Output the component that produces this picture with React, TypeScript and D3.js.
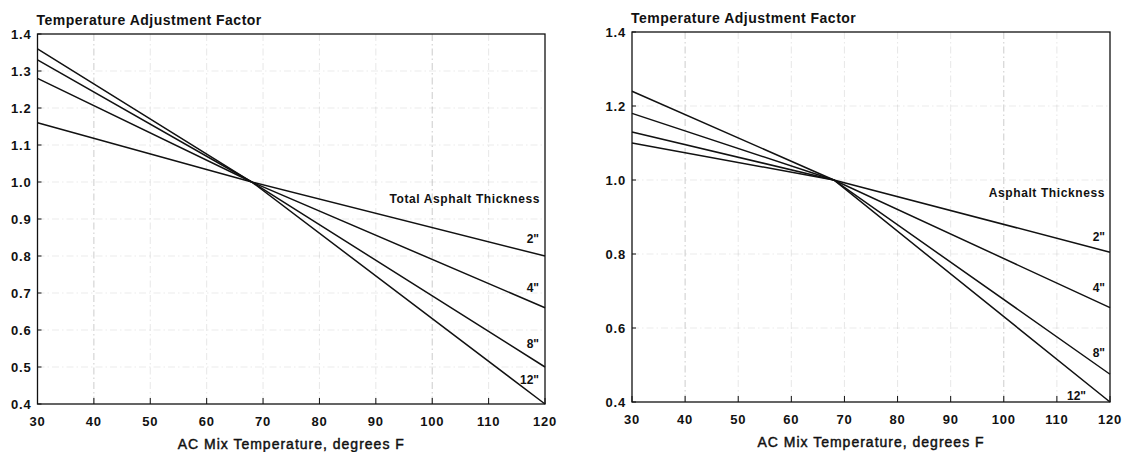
import React from "react";
import * as d3 from "d3";

// ---------- data ----------
const xTicks = [30, 40, 50, 60, 70, 80, 90, 100, 110, 120];
const leftYTicks = [0.4, 0.5, 0.6, 0.7, 0.8, 0.9, 1.0, 1.1, 1.2, 1.3, 1.4];
const rightYTicks = [0.4, 0.6, 0.8, 1.0, 1.2, 1.4];

const temps = [30, 68, 120];
const thicknessLabels = ['2"', '4"', '8"', '12"'];

const left2 = [1.16, 1.0, 0.8];
const left4 = [1.28, 1.0, 0.66];
const left8 = [1.33, 1.0, 0.5];
const left12 = [1.36, 1.0, 0.4];

const right2 = [1.1, 1.0, 0.805];
const right4 = [1.13, 1.0, 0.655];
const right8 = [1.18, 1.0, 0.475];
const right12 = [1.24, 1.0, 0.4];

const yTitle = "Temperature Adjustment Factor";
const xTitle = "AC Mix Temperature, degrees F";
const leftLegendTitle = "Total Asphalt Thickness";
const rightLegendTitle = "Asphalt Thickness";

const FONT = "'Liberation Sans', Arial, Helvetica, sans-serif";

type PanelProps = {
  x0: number;
  x1: number;
  y0: number;
  y1: number;
  yTicks: number[];
  series: number[][];
  legendTitle: string;
  legendDy: number;
  labelDy: number[];
  labelDx: number[];
};

function Panel(p: PanelProps) {
  const x = d3.scaleLinear().domain([30, 120]).range([p.x0, p.x1]);
  const y = d3.scaleLinear().domain([0.4, 1.4]).range([p.y1, p.y0]);
  const line = d3
    .line<number>()
    .x((_, i) => x(temps[i]))
    .y((d) => y(d));
  const fmt = d3.format(".1f");
  return (
    <g>
      {/* faint dash-dot grid */}
      {xTicks.slice(1, -1).map((t) => (
        <line
          key={"gx" + t}
          x1={x(t)}
          x2={x(t)}
          y1={p.y0}
          y2={p.y1}
          stroke="#9a9a9a"
          strokeWidth={0.9}
          strokeDasharray="7,3,1.5,3"
          opacity={t === 40 || t === 100 ? 0.55 : 0.25}
        />
      ))}
      {p.yTicks.slice(1, -1).map((t) => (
        <line
          key={"gy" + t}
          x1={p.x0}
          x2={p.x1}
          y1={y(t)}
          y2={y(t)}
          stroke="#9a9a9a"
          strokeWidth={0.9}
          strokeDasharray="7,3,1.5,3"
          opacity={0.2}
        />
      ))}
      {/* frame */}
      <rect
        x={p.x0}
        y={p.y0}
        width={p.x1 - p.x0}
        height={p.y1 - p.y0}
        fill="none"
        stroke="#111"
        strokeWidth={1.3}
      />
      {/* x ticks */}
      {xTicks.map((t) => (
        <g key={"xt" + t}>
          <line x1={x(t)} x2={x(t)} y1={p.y1} y2={p.y1 - 6} stroke="#111" strokeWidth={1} />
          <text
            x={x(t)}
            y={p.y1 + 22}
            textAnchor="middle"
            fontFamily={FONT}
            fontWeight="bold"
            fontSize={13}
            letterSpacing={0.8}
            fill="#111"
          >
            {t}
          </text>
        </g>
      ))}
      {/* y ticks */}
      {p.yTicks.map((t) => (
        <g key={"yt" + t}>
          <line x1={p.x0} x2={p.x0 + 4} y1={y(t)} y2={y(t)} stroke="#111" strokeWidth={1} />
          <text
            x={p.x0 - 6}
            y={y(t)}
            dy="0.35em"
            textAnchor="end"
            fontFamily={FONT}
            fontWeight="bold"
            fontSize={13}
            letterSpacing={0.8}
            fill="#111"
          >
            {fmt(t)}
          </text>
        </g>
      ))}
      {/* titles */}
      <text
        x={p.x0 - 1}
        y={p.y0 - 9}
        fontFamily={FONT}
        fontWeight="bold"
        fontSize={14}
        letterSpacing={0.5}
        fill="#111"
      >
        {yTitle}
      </text>
      <text
        x={(p.x0 + p.x1) / 2}
        y={p.y1 + 45}
        textAnchor="middle"
        fontFamily={FONT}
        fontSize={14}
        letterSpacing={1}
        fill="#111"
        stroke="#111"
        strokeWidth={0.45}
      >
        {xTitle}
      </text>
      {/* series */}
      {p.series.map((s, i) => (
        <path key={"s" + i} d={line(s) || ""} fill="none" stroke="#111" strokeWidth={1.5} />
      ))}
      {/* labels */}
      <text
        x={p.x1 - 5}
        y={y(p.series[0][2]) - p.legendDy}
        dy="0.35em"
        textAnchor="end"
        fontFamily={FONT}
        fontWeight="bold"
        fontSize={12}
        letterSpacing={0.6}
        fill="#111"
      >
        {p.legendTitle}
      </text>
      {p.series.map((s, i) => (
        <text
          key={"l" + i}
          x={p.x1 - p.labelDx[i]}
          y={y(s[2]) - p.labelDy[i]}
          dy="0.35em"
          textAnchor="end"
          fontFamily={FONT}
          fontWeight="bold"
          fontSize={12}
          fill="#111"
        >
          {thicknessLabels[i]}
        </text>
      ))}
    </g>
  );
}

export default function App() {
  return (
    <svg
      width={1123}
      height={452}
      style={{ position: "absolute", left: 0, top: 0, background: "#fff" }}
    >
      <rect width={1123} height={452} fill="#fff" />
      <Panel
        x0={37.5}
        x1={545}
        y0={34}
        y1={404}
        yTicks={leftYTicks}
        series={[left2, left4, left8, left12]}
        legendTitle={leftLegendTitle}
        legendDy={57}
        labelDy={[17, 20, 23, 24]}
        labelDx={[6, 6, 6, 6]}
      />
      <Panel
        x0={632}
        x1={1110}
        y0={32}
        y1={402}
        yTicks={rightYTicks}
        series={[right2, right4, right8, right12]}
        legendTitle={rightLegendTitle}
        legendDy={59}
        labelDy={[15, 20, 21, 6]}
        labelDx={[5, 5, 5, 24]}
      />
    </svg>
  );
}
